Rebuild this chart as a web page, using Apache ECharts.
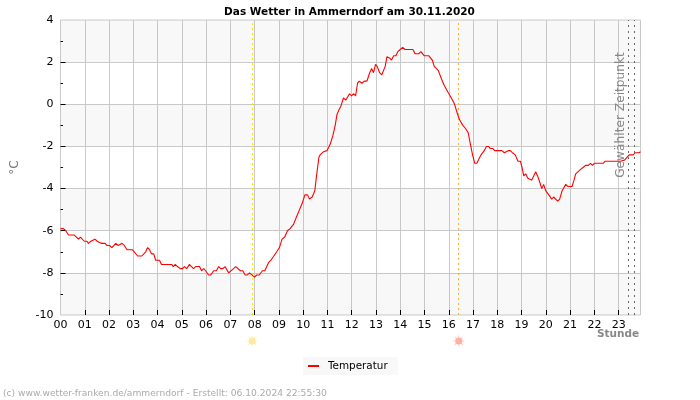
<!DOCTYPE html>
<html><head><meta charset="utf-8">
<style>html,body{margin:0;padding:0;background:#fff}#c{width:700px;height:400px}</style>
<script src="https://cdn.jsdelivr.net/npm/echarts@6/dist/echarts.min.js"></script>
</head><body><div id="c"></div>
<script>
const hours = [0.00,0.12,0.22,0.33,0.56,0.74,0.82,0.98,1.09,1.15,1.25,1.33,1.42,1.51,1.59,1.68,1.84,1.91,2.02,2.12,2.20,2.28,2.38,2.46,2.54,2.63,2.74,2.96,3.18,3.35,3.51,3.59,3.67,3.75,3.84,3.92,4.08,4.16,4.58,4.65,4.73,4.82,4.93,5.03,5.11,5.20,5.31,5.40,5.48,5.57,5.73,5.81,5.90,5.98,6.10,6.19,6.31,6.42,6.52,6.60,6.69,6.78,6.93,7.13,7.22,7.30,7.41,7.51,7.61,7.70,7.79,7.87,7.99,8.09,8.19,8.32,8.42,8.58,8.67,8.75,8.91,9.02,9.13,9.24,9.35,9.46,9.60,9.74,9.85,9.96,10.07,10.18,10.26,10.37,10.48,10.56,10.65,10.70,10.84,10.98,11.11,11.22,11.32,11.39,11.46,11.55,11.66,11.76,11.83,11.91,11.99,12.08,12.16,12.24,12.31,12.42,12.52,12.63,12.71,12.82,12.90,12.98,13.05,13.15,13.24,13.31,13.38,13.45,13.56,13.64,13.73,13.82,13.90,14.00,14.10,14.19,14.52,14.61,14.77,14.85,14.99,15.18,15.32,15.40,15.57,15.70,15.81,15.98,16.13,16.24,16.34,16.45,16.58,16.69,16.80,16.90,16.98,17.07,17.16,17.24,17.33,17.46,17.55,17.64,17.71,17.82,17.89,18.19,18.29,18.37,18.45,18.54,18.62,18.74,18.85,18.95,19.02,19.09,19.17,19.25,19.33,19.42,19.58,19.66,19.75,19.83,19.91,19.99,20.12,20.24,20.32,20.49,20.57,20.67,20.82,20.90,21.08,21.16,21.23,21.42,21.53,21.64,21.75,21.84,21.92,22.00,22.36,22.44,23.07,23.24,23.43,23.60,23.68,23.84,23.90];
const temperatur = [-5.9,-5.9,-6.0,-6.2,-6.2,-6.4,-6.3,-6.5,-6.5,-6.6,-6.5,-6.5,-6.4,-6.5,-6.5,-6.6,-6.6,-6.7,-6.7,-6.8,-6.8,-6.6,-6.7,-6.7,-6.6,-6.7,-6.9,-6.9,-7.2,-7.2,-7.0,-6.8,-6.9,-7.1,-7.1,-7.4,-7.4,-7.6,-7.6,-7.7,-7.6,-7.7,-7.8,-7.8,-7.7,-7.8,-7.6,-7.7,-7.8,-7.7,-7.7,-7.9,-7.8,-7.9,-8.1,-8.1,-7.9,-7.9,-7.7,-7.8,-7.8,-7.7,-8.0,-7.8,-7.7,-7.7,-7.9,-7.9,-8.1,-8.1,-8.0,-8.0,-8.2,-8.1,-8.1,-7.9,-7.9,-7.5,-7.4,-7.4,-7.0,-6.8,-6.4,-6.3,-6.0,-5.9,-5.7,-5.3,-5.0,-4.7,-4.3,-4.3,-4.5,-4.4,-4.1,-3.3,-2.5,-2.4,-2.25,-2.2,-1.9,-1.5,-1.0,-0.5,-0.3,-0.1,0.3,0.2,0.2,0.5,0.4,0.5,0.4,1.0,1.1,1.0,1.1,1.1,1.4,1.7,1.5,1.9,1.8,1.5,1.4,1.4,1.8,2.25,2.2,2.1,2.3,2.3,2.5,2.6,2.7,2.6,2.6,2.4,2.4,2.5,2.3,2.3,2.1,1.8,1.6,1.2,0.9,0.55,0.25,0,-0.4,-0.75,-1.0,-1.15,-1.35,-1.95,-2.4,-2.8,-2.8,-2.6,-2.4,-2.2,-2.0,-2.0,-2.1,-2.1,-2.2,-2.2,-2.3,-2.3,-2.2,-2.2,-2.3,-2.4,-2.7,-2.7,-3.0,-3.4,-3.3,-3.5,-3.5,-3.6,-3.2,-3.4,-3.7,-4.0,-3.8,-4.1,-4.3,-4.5,-4.4,-4.6,-4.5,-4.1,-3.8,-3.9,-3.9,-3.6,-3.3,-3.1,-3.0,-2.9,-2.9,-2.8,-2.9,-2.8,-2.8,-2.7,-2.7,-2.65,-2.4,-2.4,-2.3,-2.3,-2.25];
const sunriseHour = 7.9, sunsetHour = 16.41;
const selectedHours = [23.41, 23.66];
const hourTicks = [1,2,3,4,5,6,7,8,9,10,11,12,13,14,15,16,17,18,19,20,21,22,23];
const tempTicks = [2,0,-2,-4,-6,-8];
const shadedBands = [[-10,-8],[-6,-4],[-2,0],[2,4]];
const sunRowValue = -11.23;
const sunRays = 'path://M50 0L54 24L46 24ZM50 100L46 76L54 76ZM0 50L24 46L24 54ZM100 50L76 54L76 46ZM15 15L35 29L29 35ZM85 85L65 71L71 65ZM85 15L71 35L65 29ZM15 85L29 65L35 71Z';

const FONT = '"DejaVu Sans"';
const chart = echarts.init(document.getElementById('c'), null, {renderer:'canvas'});
function sunSeries(name, hour, core, ray){
  return [
    {type:'scatter',name:name+'R',clip:false,silent:true,symbol:sunRays,symbolSize:[13,13],symbolKeepAspect:true,
     itemStyle:{color:ray,opacity:1},data:[[hour,sunRowValue]],z:3},
    {type:'scatter',name:name+'C',clip:false,silent:true,symbol:'circle',symbolSize:7,
     itemStyle:{color:core,opacity:1},data:[[hour,sunRowValue]],z:4}
  ];
}
chart.setOption({
  animation:false,
  backgroundColor:'#fff',
  textStyle:{fontFamily:FONT},
  title:{text:'Das Wetter in Ammerndorf am 30.11.2020',left:344.5,textAlign:'center',top:2,
    textStyle:{fontFamily:FONT,fontSize:10.5,fontWeight:'bold',color:'#000'}},
  grid:{left:60.5,right:59.5,top:20,bottom:85,show:true,borderColor:'#ccc',borderWidth:1,containLabel:false},
  legend:{data:['Temperatur'],left:303,top:357,orient:'horizontal',backgroundColor:'#f8f8f8',
    padding:[4,10,4,5],itemWidth:11,itemHeight:2,itemGap:6,icon:'rect',selectedMode:false,
    textStyle:{fontFamily:FONT,fontSize:10.4,color:'#000',padding:[0,0,0,4]}},
  xAxis:{type:'value',min:0,max:23.9,interval:1,
    axisLine:{show:false,onZero:false},
    axisTick:{show:true,inside:true,length:5,customValues:hourTicks,lineStyle:{color:'#000',width:1}},
    axisLabel:{margin:5,fontFamily:FONT,fontSize:11,color:'#000',showMaxLabel:false,
      formatter:v=>Number.isInteger(v)?String(v).padStart(2,'0'):''},
    splitLine:{show:true,lineStyle:{color:'#ccc',width:1}}},
  yAxis:{type:'value',min:-10,max:4,interval:2,
    name:'°C',nameLocation:'middle',nameGap:40,nameRotate:90,
    nameTextStyle:{fontFamily:FONT,fontSize:12,color:'#777'},
    axisLine:{show:false},
    axisTick:{show:true,inside:true,length:5,customValues:tempTicks,lineStyle:{color:'#000',width:1}},
    minorTick:{show:true,splitNumber:2,length:2.5,lineStyle:{color:'#000',width:1}},
    axisLabel:{margin:7,fontFamily:FONT,fontSize:11,color:'#000'},
    splitLine:{show:true,lineStyle:{color:'#ccc',width:1}},
    splitArea:{show:false}},
  graphic:[
    {type:'text',left:597,top:329,z:10,style:{text:'Stunde',fill:'#888',font:'bold 10.5px "DejaVu Sans"'}},
    {type:'text',x:621,y:115,rotation:Math.PI/2,z:10,silent:true,
      style:{text:'Gewählter Zeitpunkt',fill:'#888',font:'12.2px "DejaVu Sans"',align:'center',verticalAlign:'middle'}},
    {type:'text',left:3,top:389,z:10,style:{text:'(c) www.wetter-franken.de/ammerndorf - Erstellt: 06.10.2024 22:55:30',fill:'#aaa',font:'9.15px "DejaVu Sans"'}}
  ],
  series:[
    {name:'Temperatur',type:'line',data:hours.map((h,i)=>[h,temperatur[i]]),showSymbol:false,symbol:'none',
     lineStyle:{color:'#f00',width:1.1},itemStyle:{color:'#f00'},z:5,
     markArea:{silent:true,label:{show:false},itemStyle:{color:'rgba(0,0,0,0.028)'},
       data:shadedBands.map(b=>[{yAxis:b[0]},{yAxis:b[1]}])},
     markLine:{silent:true,symbol:'none',label:{show:false},animation:false,data:[
       {xAxis:sunriseHour,lineStyle:{color:'#ffe600',type:[2,3],width:1}},
       {xAxis:sunsetHour,lineStyle:{color:'#ffb030',type:[2,3],width:1}},
       ...selectedHours.map(h=>({xAxis:h,lineStyle:{color:'#666',type:[2,4],width:1}}))
     ]}},
    ...sunSeries('sunrise',sunriseHour,'#ffe9a0','#ffe9a0'),
    ...sunSeries('sunset',sunsetHour,'#ffb0a0','#ffb8aa')
  ]
});
</script></body></html>
